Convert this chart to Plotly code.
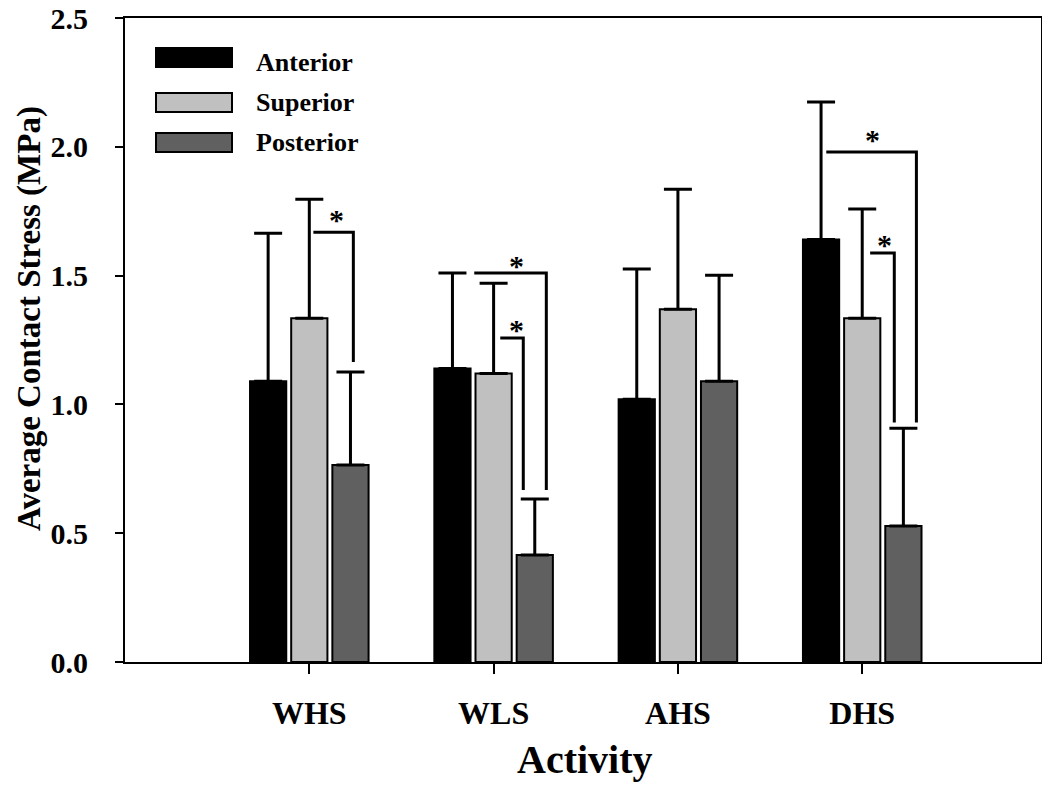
import plotly.graph_objects as go

activities = ["WHS", "WLS", "AHS", "DHS"]
anterior = [1.09, 1.14, 1.02, 1.64]
superior = [1.335, 1.12, 1.37, 1.335]
posterior = [0.765, 0.415, 1.09, 0.528]
anterior_err_top = [1.665, 1.51, 1.526, 2.174]
superior_err_top = [1.797, 1.471, 1.836, 1.759]
posterior_err_top = [1.126, 0.633, 1.502, 0.908]
y_ticks = [0.0, 0.5, 1.0, 1.5, 2.0, 2.5]

series_names = ["Anterior", "Superior", "Posterior"]
series_vals = [anterior, superior, posterior]
series_tops = [anterior_err_top, superior_err_top, posterior_err_top]
colors = ["#000000", "#c0c0c0", "#606060"]

# significance brackets: (x_left, x_right, y_top, y_bottom, star_x, star_y)
brackets = [
    (0.022, 0.239, 1.669, 1.165, 0.147, 1.72),
    (0.895, 1.286, 1.510, 0.668, 1.123, 1.54),
    (1.036, 1.161, 1.258, 0.668, 1.123, 1.29),
    (2.805, 3.294, 1.980, 0.930, 3.055, 2.03),
    (3.043, 3.174, 1.588, 0.930, 3.120, 1.62),
]

FONT = "Liberation Serif"
xpos = list(range(len(activities)))

fig = go.Figure()
for name, vals, tops, col in zip(series_names, series_vals, series_tops, colors):
    fig.add_trace(go.Bar(
        x=xpos, y=vals, name=name,
        marker=dict(color=col, line=dict(color="black", width=2)),
        error_y=dict(type="data", symmetric=False,
                     array=[t - v for t, v in zip(tops, vals)],
                     arrayminus=[0] * len(vals),
                     color="black", thickness=3, width=14),
        showlegend=False,
    ))

shapes = []
annotations = []
for xl, xr, yt, yb, sx, sy in brackets:
    shapes.append(dict(type="path", xref="x", yref="y",
                       path=f"M {xl},{yt} L {xr},{yt} L {xr},{yb}",
                       line=dict(color="black", width=3)))
    annotations.append(dict(x=sx, y=sy, xref="x", yref="y", text="<b>*</b>",
                            showarrow=False, font=dict(family=FONT, size=30, color="black")))

# custom legend (paper coordinates)
PW, PH = 916.0, 644.0
def px(xp):
    return (xp - 125) / PW
def py(yp):
    return (662 - yp) / PH

leg_rows = [(48, 67, 62), (93, 112, 102), (133, 152, 142)]
for (t, b, tc), name, col in zip(leg_rows, series_names, colors):
    shapes.append(dict(type="rect", xref="paper", yref="paper",
                       x0=px(156), x1=px(232), y0=py(b), y1=py(t),
                       fillcolor=col, line=dict(color="black", width=2)))
    annotations.append(dict(x=px(254), y=py(tc), xref="paper", yref="paper",
                            text=f"<b>{name}</b>", showarrow=False, xanchor="left", yanchor="middle",
                            font=dict(family=FONT, size=26, color="black")))

# axis titles
annotations.append(dict(x=px(585), y=py(759), xref="paper", yref="paper",
                        text="<b>Activity</b>", showarrow=False, xanchor="center", yanchor="middle",
                        font=dict(family=FONT, size=40, color="black")))
annotations.append(dict(x=px(29), y=py(319), xref="paper", yref="paper", textangle=-90,
                        text="<b>Average Contact Stress (MPa)</b>", showarrow=False,
                        xanchor="center", yanchor="middle",
                        font=dict(family=FONT, size=33, color="black")))

fig.update_layout(
    width=1034, height=778,
    margin=dict(l=117, r=1, t=10, b=124, autoexpand=False),
    paper_bgcolor="white", plot_bgcolor="white",
    barmode="group", bargap=0.33, bargroupgap=0.12,
    shapes=shapes, annotations=annotations,
    font=dict(family=FONT, color="black"),
)
fig.update_xaxes(
    range=[-1, 3.97], tickvals=xpos, ticktext=[f"<b>{a}</b>" for a in activities],
    ticks="outside", ticklen=10, tickwidth=2, tickcolor="black",
    ticklabelstandoff=12, automargin=False,
    showline=True, linecolor="black", linewidth=2, mirror=True,
    showgrid=False, zeroline=False,
    tickfont=dict(family=FONT, size=32, color="black"),
)
fig.update_yaxes(
    range=[0, 2.5005], tickmode="array", tickvals=y_ticks,
    ticktext=[f"<b>{v:.1f}</b>" for v in y_ticks],
    ticks="outside", ticklen=8, tickwidth=2, tickcolor="black",
    ticklabelstandoff=21, ticklabeloverflow="allow", automargin=False,
    showline=True, linecolor="black", linewidth=2, mirror=True,
    showgrid=False, zeroline=False,
    tickfont=dict(family=FONT, size=30, color="black"),
)

fig.write_html("out.html")
